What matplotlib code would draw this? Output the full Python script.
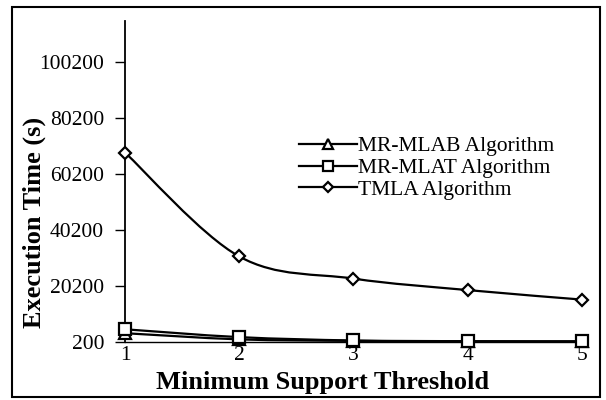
import numpy as np
import matplotlib.pyplot as plt
from matplotlib.path import Path
from matplotlib.patches import PathPatch, Rectangle
from matplotlib.lines import Line2D

plt.rcParams['font.family'] = ['Liberation Serif', 'DejaVu Serif']

# data
support = [1, 2, 3, 4, 5]
mr_mlab = [3200, 1000, 450, 300, 250]
mr_mlat = [4600, 1800, 600, 350, 300]
tmla = [67700, 30600, 22700, 18600, 15200]
yticks = [200, 20200, 40200, 60200, 80200, 100200]


def smooth_path(x, y):
    # Excel-style smoothed line (Catmull-Rom as cubic bezier)
    x = np.asarray(x, float)
    y = np.asarray(y, float)
    verts = [(x[0], y[0])]
    codes = [Path.MOVETO]
    n = len(x)
    for i in range(n - 1):
        p0 = (x[max(i - 1, 0)], y[max(i - 1, 0)])
        p1 = (x[i], y[i])
        p2 = (x[i + 1], y[i + 1])
        p3 = (x[min(i + 2, n - 1)], y[min(i + 2, n - 1)])
        c1 = (p1[0] + (p2[0] - p0[0]) / 6, p1[1] + (p2[1] - p0[1]) / 6)
        c2 = (p2[0] - (p3[0] - p1[0]) / 6, p2[1] - (p3[1] - p1[1]) / 6)
        verts += [c1, c2, p2]
        codes += [Path.CURVE4] * 3
    return Path(verts, codes)


fig = plt.figure(figsize=(6.06, 4.0), dpi=100)
ax = fig.add_axes([0.2063, 0.146, 0.754, 0.8015])

series = [
    (mr_mlab, '^', 'MR-MLAB Algorithm'),
    (mr_mlat, 's', 'MR-MLAT Algorithm'),
    (tmla, 'D', 'TMLA Algorithm'),
]
handles = []
for vals, mk, lab in series:
    ax.add_patch(PathPatch(smooth_path(support, vals), facecolor='none',
                           edgecolor='black', lw=1.6, clip_on=False, zorder=3))
    ms = 6 if mk == 'D' else 8.5
    ax.plot(support, vals, ls='none', marker=mk, ms=ms, mfc='white',
            mec='black', mew=1.6, clip_on=False, zorder=4)
    handles.append(Line2D([], [], color='black', lw=1.6, marker=mk,
                          ms=ms * 0.85, mfc='white', mec='black', mew=1.6))

ax.set_xlim(1, 5)
ax.set_ylim(200, 114700)
ax.set_xticks(support)
ax.set_yticks(yticks)
ax.tick_params(axis='y', direction='out', length=7, width=1, labelsize=15.5, pad=8)
ax.tick_params(axis='x', length=0, labelsize=15.5, pad=3)
for s in ['top', 'right']:
    ax.spines[s].set_visible(False)
ax.spines['left'].set_linewidth(1.3)
ax.spines['bottom'].set_linewidth(1.0)

fig.text(34.5 / 606, 1 - 222 / 400, 'Execution Time (s)', fontsize=19,
         fontweight='bold', rotation=90, ha='center', va='center')
fig.text(323 / 606, 1 - 382 / 400, 'Minimum Support Threshold', fontsize=19,
         fontweight='bold', ha='center', va='center')

ax.legend(handles, [s[2] for s in series], loc='upper left',
          bbox_to_anchor=(0.38, 0.64), frameon=False, fontsize=15.5,
          handlelength=2.7, handletextpad=0.05, labelspacing=0.07,
          borderpad=0, borderaxespad=0)

fig.patches.append(Rectangle((0.0198, 0.0075), 0.9703, 0.975, transform=fig.transFigure,
                             fill=False, edgecolor='black', lw=1.5))

fig.savefig('out.png', dpi=100)
